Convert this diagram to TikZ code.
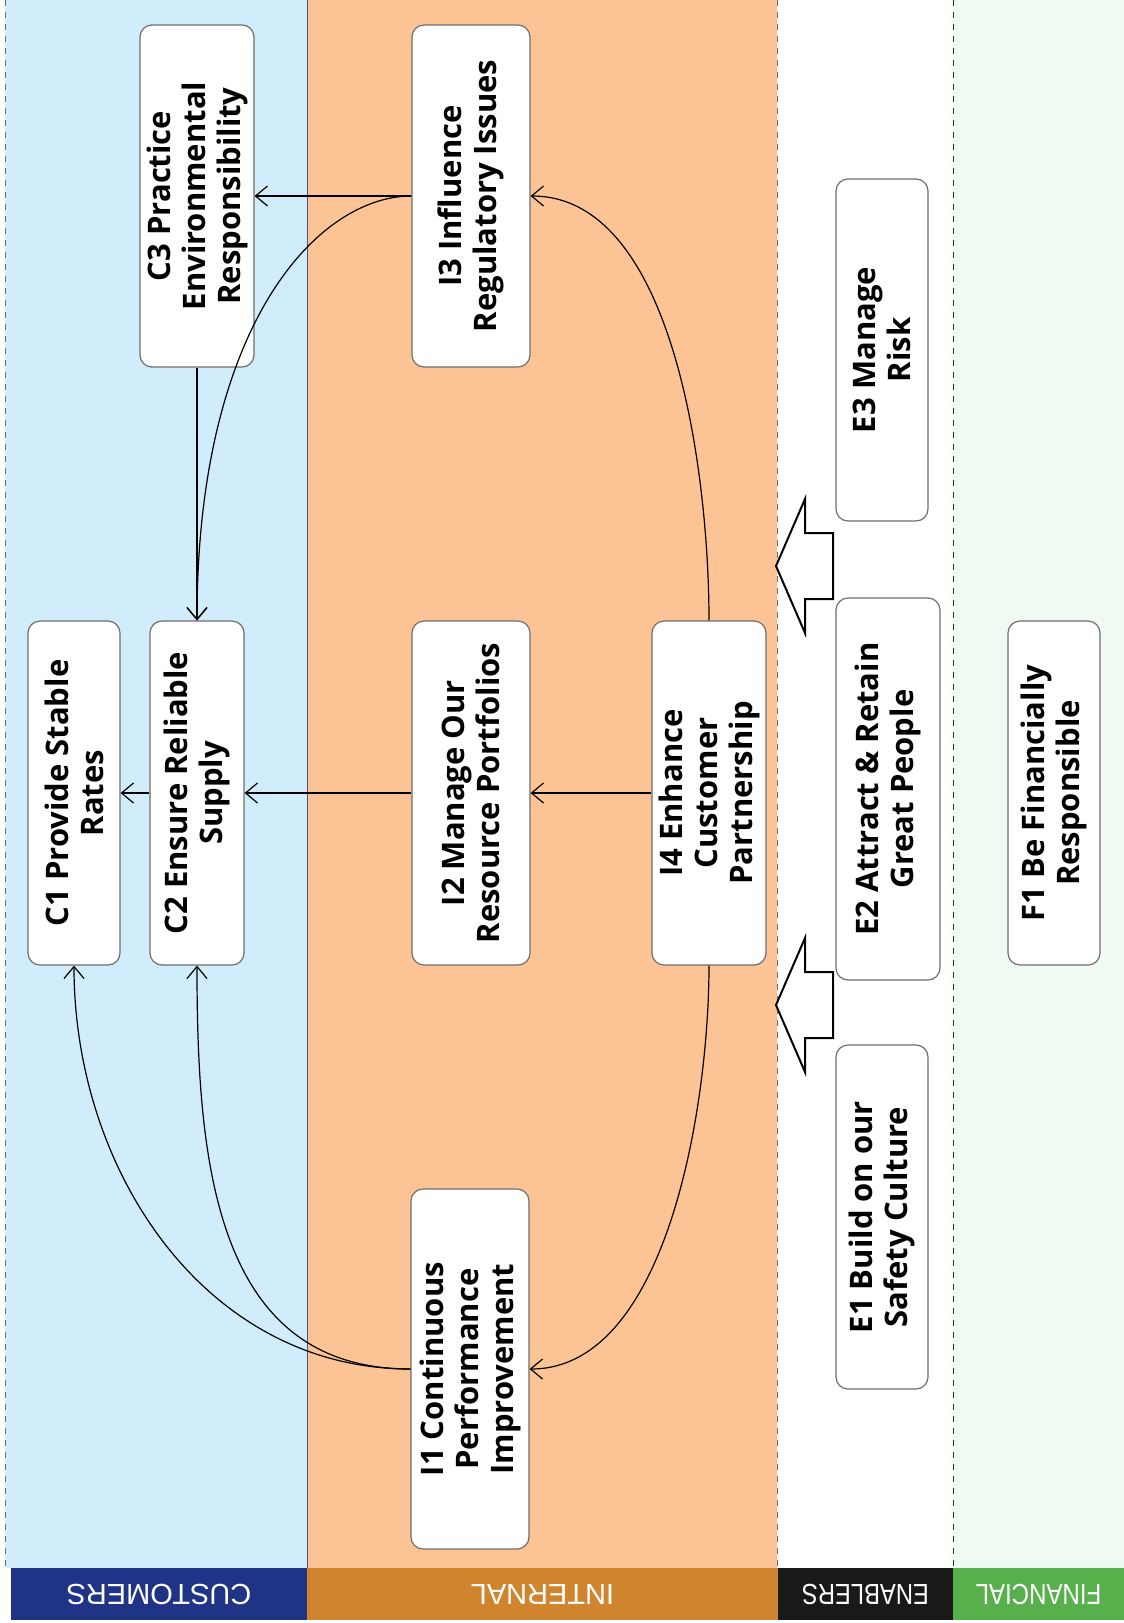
\documentclass[tikz,border=0pt]{standalone}
\usepackage{fontspec}
\newfontfamily\boxfont{Open Sans}
\newfontfamily\labfont{Liberation Sans}
\usetikzlibrary{arrows.meta}
\definecolor{custfill}{RGB}{209,236,250}
\definecolor{intfill}{RGB}{252,196,148}
\definecolor{finfill}{RGB}{238,250,242}
\definecolor{custbar}{RGB}{32,52,135}
\definecolor{intbar}{RGB}{208,132,46}
\definecolor{enabar}{RGB}{25,25,25}
\definecolor{finbar}{RGB}{88,176,76}
\definecolor{boxline}{RGB}{110,110,110}
\begin{document}
\begin{tikzpicture}[x=0.5pt, y=-0.5pt,
    objbox/.style={draw=boxline, fill=white, rounded corners=6pt, rotate=90,
      align=center, inner sep=2pt, line width=0.6pt,
      font=\boxfont\bfseries\fontsize{15.5}{17.5}\selectfont},
    bandlab/.style={text=white, rotate=180,
      font=\labfont\fontsize{14.5}{15}\selectfont},
    link/.style={-{Straight Barb[length=6pt,width=10pt]}, line width=0.6pt}]
        \useasboundingbox (0,0) rectangle (1124,1623);
        % Bands
        \fill[custfill] (5,0) rectangle (307,1568);
        \fill[intfill] (307,0) rectangle (777,1568);
        \fill[white] (777,0) rectangle (953,1568);
        \fill[finfill] (953,0) rectangle (1124,1568);
        \draw[boxline, dashed] (5,0) -- (5,1568);
        \draw[blue!40!gray] (307,0) -- (307,1568);
        \draw[boxline, dashed] (777,0) -- (777,1568);
        \draw[green!30!black, dashed] (953,0) -- (953,1568);
        % Band labels, upside down
        \foreach \a/\b/\col/\lab/\sx in {11/307/custbar/CUSTOMERS/1,
            307/778/intbar/INTERNAL/1, 778/953/enabar/ENABLERS/0.82,
            953/1124/finbar/FINANCIAL/0.83} {
          \fill[\col] (\a,1568) rectangle (\b,1620);
          \node[bandlab, xscale=\sx] (lab-\lab) at ({(\a+\b)/2},1594) {\lab};
        }
        % Customers
        \node[objbox, minimum width=171pt, minimum height=57pt] (c3) at (197,196)
          {C3 Practice\\Environmental\\Responsibility};
        \node[objbox, minimum width=172pt, minimum height=46pt] (c1) at (74,793)
          {C1 Provide Stable\\Rates};
        \node[objbox, minimum width=172pt, minimum height=47pt] (c2) at (197,793)
          {C2 Ensure Reliable\\Supply};
        % Internal
        \node[objbox, minimum width=171pt, minimum height=59pt] (i3) at (471,196)
          {I3 Influence\\Regulatory Issues};
        \node[objbox, minimum width=172pt, minimum height=59pt] (i2) at (471,793)
          {I2 Manage Our\\Resource Portfolios};
        \node[objbox, minimum width=172pt, minimum height=57pt] (i4) at (709,793)
          {I4 Enhance\\Customer\\Partnership};
        \node[objbox, minimum width=180pt, minimum height=59pt] (i1) at (470,1369)
          {I1 Continuous\\Performance\\Improvement};
        % Enablers
        \node[objbox, minimum width=171pt, minimum height=46pt] (e3) at (882,350)
          {E3 Manage\\Risk};
        \node[objbox, minimum width=191pt, minimum height=52pt] (e2) at (888,789)
          {E2 Attract \& Retain\\Great People};
        \node[objbox, minimum width=172pt, minimum height=46pt] (e1) at (882,1217)
          {E1 Build on our\\Safety Culture};
        % Financial
        \node[objbox, minimum width=172pt, minimum height=46pt] (f1) at (1054,793)
          {F1 Be Financially\\Responsible};
        % Links
        \draw[link] (i3.north) -- (c3.south);
        \draw[link] (c3.west) -- (c2.east);
        \draw[link] (i3.north) to[out=180, in=90, out looseness=0.5, in looseness=1.6] (c2.east);
        \draw[link] (i4.east) to[out=90, in=0, looseness=0.8] (i3.south);
        \draw[link] (i4.north) -- (i2.south);
        \draw[link] (i2.north) -- (c2.south);
        \draw[link] (c2.north) -- (c1.south);
        \draw[link] (i4.west) to[out=-90, in=0, looseness=0.8] (i1.south);
        \draw[link] (i1.north) to[out=180, in=-90] (c1.west);
        \draw[link] (i1.north) to[out=180, in=-90, looseness=1.1] (c2.west);
        % Block arrows from the enablers
        \foreach \y in {566,1005} {
          \draw[fill=white, line width=1pt] (776,\y) -- (805,\y-67) -- (805,\y-33)
            -- (833,\y-33) -- (833,\y+33) -- (805,\y+33) -- (805,\y+67) -- cycle;
        }
\end{tikzpicture}
\end{document}
